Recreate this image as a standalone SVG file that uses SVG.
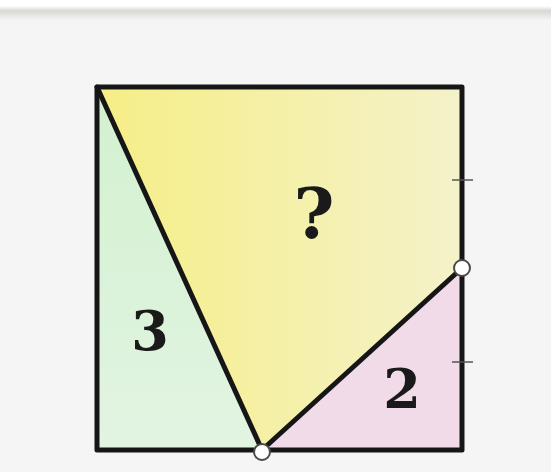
<svg xmlns="http://www.w3.org/2000/svg" width="551" height="472" viewBox="0 0 551 472">
  <style>
    .edge { stroke: #161616; stroke-width: 5; fill: none; stroke-linejoin: round; stroke-linecap: round; }
    .tick { stroke: #555555; stroke-width: 1.5; }
    .lbl { font-family: "DejaVu Serif", "Liberation Serif", serif; font-weight: bold; fill: #1a1a1a; text-anchor: middle; }
    .pt { fill: #ffffff; stroke: #4a4a4a; stroke-width: 2; }
  </style>
  <defs>
    <linearGradient id="gy" x1="0" y1="0" x2="1" y2="0">
      <stop offset="0" stop-color="#f6ee86"/>
      <stop offset="1" stop-color="#f4f2ca"/>
    </linearGradient>
    <linearGradient id="gg" x1="0" y1="0" x2="0" y2="1">
      <stop offset="0" stop-color="#d2f1cf"/>
      <stop offset="1" stop-color="#e2f4e2"/>
    </linearGradient>
    <linearGradient id="bar" x1="0" y1="0" x2="0" y2="1">
      <stop offset="0" stop-color="#ffffff"/>
      <stop offset="0.35" stop-color="#d7d7d3"/>
      <stop offset="1" stop-color="#f4f4f5"/>
    </linearGradient>
  </defs>
  <rect x="0" y="0" width="551" height="472" fill="#f5f5f6"/>
  <rect x="0" y="0" width="551" height="6" fill="#ffffff"/>
  <rect x="0" y="6" width="551" height="14" fill="url(#bar)"/>

  <g id="region-3">
    <polygon points="97,87 97,450 262,450" fill="url(#gg)"/>
    <text class="lbl" x="150" y="350" font-size="54">3</text>
  </g>
  <g id="region-q">
    <polygon points="97,87 462,87 462,268 262,450" fill="url(#gy)"/>
    <text class="lbl" x="314" y="238" font-size="70">?</text>
  </g>
  <g id="region-2">
    <polygon points="262,450 462,268 462,450" fill="#f2dbe8"/>
    <text class="lbl" x="402" y="408" font-size="54">2</text>
  </g>

  <g id="connectors">
    <rect class="edge" x="97" y="87" width="365" height="363"/>
    <line class="edge" x1="97" y1="87" x2="262" y2="450"/>
    <line class="edge" x1="262" y1="450" x2="462" y2="268"/>
    <line class="tick" x1="452" y1="180" x2="473" y2="180"/>
    <line class="tick" x1="452" y1="362" x2="473" y2="362"/>
  </g>

  <g id="point-right">
    <circle class="pt" cx="462" cy="268" r="8"/>
  </g>
  <g id="point-bottom">
    <circle class="pt" cx="262" cy="452" r="8"/>
  </g>
</svg>
